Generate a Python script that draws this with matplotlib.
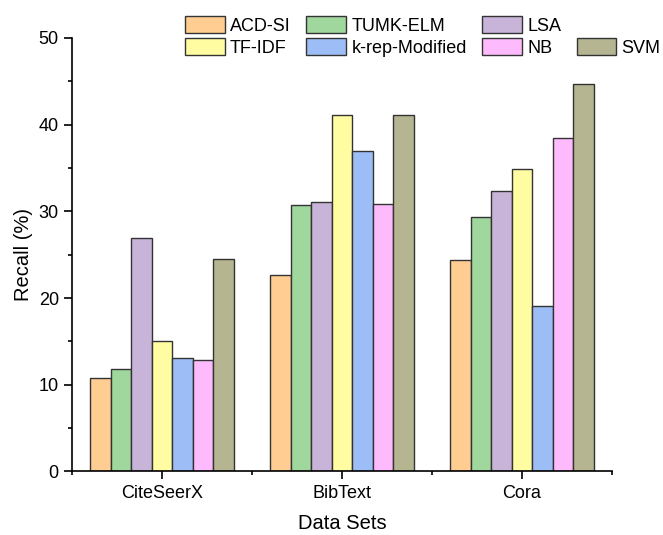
import numpy as np
import matplotlib
matplotlib.use("Agg")
from matplotlib import pyplot as plt
from matplotlib.patches import Patch
from matplotlib.ticker import MultipleLocator, FixedLocator

plt.rcParams['font.family'] = ['Liberation Sans', 'DejaVu Sans']

datasets = ["CiteSeerX", "BibText", "Cora"]
methods  = ["ACD-SI", "TUMK-ELM", "LSA", "TF-IDF", "k-rep-Modified", "NB", "SVM"]
colores  = ["#FFCD92", "#9FD79D", "#C8B4D8", "#FFFCA2", "#9DBDF6", "#FDBBFD", "#B5B592"]

acd_si   = [10.8, 22.7, 24.4]
tumk_elm = [11.8, 30.7, 29.4]
lsa      = [26.9, 31.1, 32.4]
tf_idf   = [15.1, 41.1, 34.9]
k_rep    = [13.1, 37.0, 19.1]
nb       = [12.9, 30.9, 38.5]
svm      = [24.5, 41.1, 44.7]
series   = [acd_si, tumk_elm, lsa, tf_idf, k_rep, nb, svm]

fig = plt.figure(figsize=(6.63, 5.35), dpi=100)
ax  = fig.add_axes([0.1086, 0.1187, 0.8144, 0.8103])

x = np.arange(1, len(datasets) + 1)
w = 0.8 / len(methods)
for j, vals in enumerate(series):
    ax.bar(x + (j - 3) * w, vals, width=w, color=colores[j],
           edgecolor="#333333", linewidth=1.0, label=methods[j], zorder=2)

ax.set_xlim(0.5, 3.5)
ax.set_ylim(0, 50)
ax.set_xticks(x)
ax.set_xticklabels(datasets, fontsize=13)
ax.xaxis.set_minor_locator(FixedLocator([0.5, 1.5, 2.5, 3.5]))
ax.yaxis.set_major_locator(MultipleLocator(10))
ax.yaxis.set_minor_locator(MultipleLocator(5))
ax.tick_params(axis='both', which='major', direction='out', length=6, width=1.2, labelsize=13)
ax.tick_params(axis='both', which='minor', direction='out', length=3, width=1.2)
ax.spines['top'].set_visible(False)
ax.spines['right'].set_visible(False)
for s in ['left', 'bottom']:
    ax.spines[s].set_linewidth(1.2)

ax.set_xlabel("Data Sets", fontsize=14.5, labelpad=9)
ax.set_ylabel("Recall (%)", fontsize=14.5, labelpad=4)

# legend: 2 rows x 4 columns, filled column by column
h = [Patch(facecolor=colores[j], edgecolor="#333333", linewidth=1.0) for j in range(7)]
blank = Patch(facecolor="none", edgecolor="none")
handles = [h[0], h[3], h[1], h[4], h[2], h[5], blank, h[6]]
labels  = [methods[0], methods[3], methods[1], methods[4], methods[2], methods[5], "", methods[6]]
fig.legend(handles, labels, ncol=4, loc="upper left", bbox_to_anchor=(0.279, 0.97),
           frameon=False, fontsize=13, handlelength=2.2, handleheight=1.05,
           handletextpad=0.3, columnspacing=0.85, labelspacing=0.2, borderpad=0.0,
           borderaxespad=0.0)

fig.savefig("out.png", dpi=100)
